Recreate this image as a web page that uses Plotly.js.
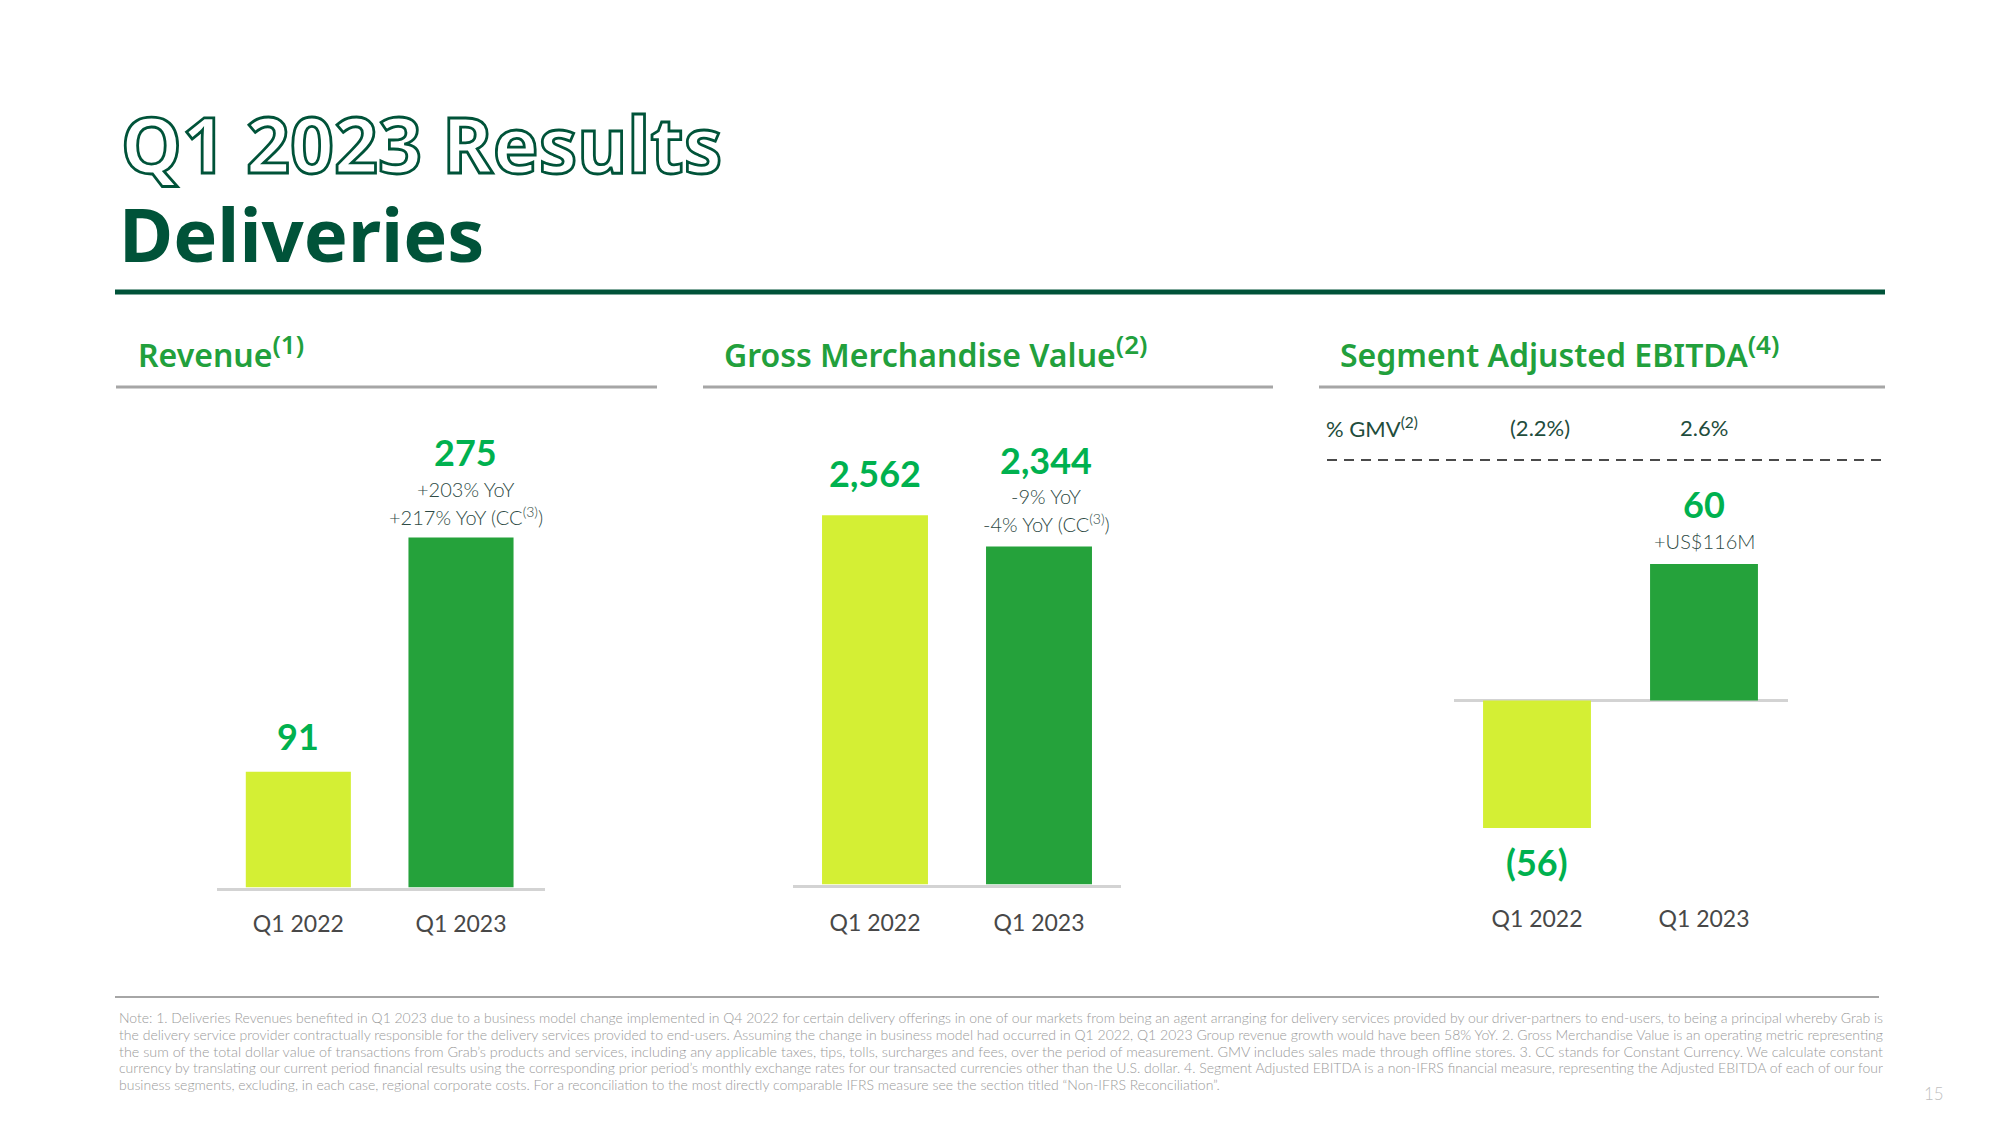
<!DOCTYPE html>
<html>
<head>
<meta charset="utf-8">
<script src="https://cdn.plot.ly/plotly-3.0.1.min.js"></script>
<style>
  html, body { margin: 0; padding: 0; background: #ffffff; }
  #chart { width: 2000px; height: 1125px; }
  g.annotation[data-index="0"] text.annotation-text {
    fill: #ffffff !important;
    stroke: #005339;
    stroke-width: 2.8px;
  }
</style>
</head>
<body>
<div id="chart"></div>
<script>
// ---------- data ----------
const categories = ['Q1 2022', 'Q1 2023'];
const revenue = [91, 275];
const gmv = [2562, 2344];
const ebitda = [-56, 60];
const gmvPct = ['(2.2%)', '2.6%'];
const revenueNotes = ['+203% YoY', '+217% YoY (CC<sup>(3)</sup>)'];
const gmvNotes = ['-9% YoY', '-4% YoY (CC<sup>(3)</sup>)'];
const ebitdaNote = '+US$116M';
const footnotes = [
  'Note: 1. Deliveries Revenues benefited in Q1 2023 due to a business model change implemented in Q4 2022 for certain delivery offerings in one of our markets from being an agent arranging for delivery services provided by our driver-partners to end-users, to being a principal whereby Grab is',
  'the delivery service provider contractually responsible for the delivery services provided to end-users. Assuming the change in business model had occurred in Q1 2022, Q1 2023 Group revenue growth would have been 58% YoY. 2. Gross Merchandise Value is an operating metric representing',
  'the sum of the total dollar value of transactions from Grab\u2019s products and services, including any applicable taxes, tips, tolls, surcharges and fees, over the period of measurement. GMV includes sales made through offline stores. 3. CC stands for Constant Currency. We calculate constant',
  'currency by translating our current period financial results using the corresponding prior period\u2019s monthly exchange rates for our transacted currencies other than the U.S. dollar. 4. Segment Adjusted EBITDA is a non-IFRS financial measure, representing the Adjusted EBITDA of each of our four',
  'business segments, excluding, in each case, regional corporate costs. For a reconciliation to the most directly comparable IFRS measure see the section titled \u201cNon-IFRS Reconciliation\u201d.'
];

// ---------- style ----------
const W = 2000, H = 1125;
const px = x => x / W;
const py = y => 1 - y / H;
const barColors = ['#D4EF34', '#25A23B'];
const darkGreen = '#005339';
const headGreen = '#22A03C';
const numGreen = '#00B14F';
const noteColor = '#2E4A44';
const fmt = v => v < 0 ? '(' + Math.abs(v).toLocaleString('en-US') + ')' : v.toLocaleString('en-US');

const traces = [
  { type: 'bar', x: categories, y: revenue, xaxis: 'x', yaxis: 'y', marker: { color: barColors }, hoverinfo: 'skip' },
  { type: 'bar', x: categories, y: gmv, xaxis: 'x2', yaxis: 'y2', marker: { color: barColors }, hoverinfo: 'skip' },
  { type: 'bar', x: categories, y: ebitda, xaxis: 'x3', yaxis: 'y3', marker: { color: barColors }, hoverinfo: 'skip' }
];

const xBase = {
  type: 'category', showgrid: false, zeroline: false, ticks: '', fixedrange: true,
  tickfont: { family: 'Lato', size: 23, color: '#484848' }, ticklabelstandoff: 14
};
const layout = {
  width: W, height: H,
  margin: { l: 0, r: 0, t: 0, b: 0 },
  paper_bgcolor: '#ffffff', plot_bgcolor: 'rgba(0,0,0,0)',
  showlegend: false, bargap: 0.354,
  xaxis:  Object.assign({}, xBase, { domain: [px(217), px(545)], anchor: 'y', showline: true, linecolor: '#D3D3D3', linewidth: 3 }),
  xaxis2: Object.assign({}, xBase, { domain: [px(793), px(1121)], anchor: 'y2', showline: true, linecolor: '#D3D3D3', linewidth: 3, ticklabelstandoff: 16 }),
  xaxis3: Object.assign({}, xBase, { domain: [px(1453.5), px(1787.5)], anchor: 'y3', showline: false, ticklabelstandoff: 15 }),
  yaxis:  { domain: [py(887.5), py(430)], range: [0, 359.4], visible: false, fixedrange: true },
  yaxis2: { domain: [py(884.5), py(430)], range: [0, 3153], visible: false, fixedrange: true },
  yaxis3: { domain: [py(887.5), py(430)], range: [-82.16, 118.85], showgrid: false, showticklabels: false, ticks: '',
            zeroline: true, zerolinecolor: '#D3D3D3', zerolinewidth: 3, showline: false, fixedrange: true },
  shapes: [
    { type: 'line', xref: 'paper', yref: 'paper', x0: px(115), x1: px(1885), y0: py(292), y1: py(292), line: { color: darkGreen, width: 5 } },
    { type: 'line', xref: 'paper', yref: 'paper', x0: px(116), x1: px(657), y0: py(387), y1: py(387), line: { color: '#A6A6A6', width: 3 } },
    { type: 'line', xref: 'paper', yref: 'paper', x0: px(703), x1: px(1273), y0: py(387), y1: py(387), line: { color: '#A6A6A6', width: 3 } },
    { type: 'line', xref: 'paper', yref: 'paper', x0: px(1319), x1: px(1885), y0: py(387), y1: py(387), line: { color: '#A6A6A6', width: 3 } },
    { type: 'line', xref: 'paper', yref: 'paper', x0: px(1327), x1: px(1888), y0: py(460), y1: py(460), line: { color: '#4A4A4A', width: 2, dash: '10px,7px' } },
    { type: 'line', xref: 'paper', yref: 'paper', x0: px(115), x1: px(1879), y0: py(997), y1: py(997), line: { color: '#A6A6A6', width: 2 } }
  ],
  annotations: []
};

const A = layout.annotations;
function txt(text, x, y, size, color, opts) {
  const a = Object.assign({
    text: text, xref: 'paper', yref: 'paper', x: px(x), y: py(y),
    xanchor: 'center', yanchor: 'middle', showarrow: false,
    font: { family: 'Lato', size: size, color: color }
  }, opts || {});
  A.push(a);
  return a;
}
// index 0: outlined title
txt('Q1 2023 Results', 119, 143, 77, darkGreen, { xanchor: 'left', font: { family: 'Noto Sans', size: 77, color: darkGreen, weight: 700 } });
txt('Deliveries', 117, 234, 74, darkGreen, { xanchor: 'left', font: { family: 'Noto Sans', size: 74, color: darkGreen, weight: 700 } });

// panel titles
const headFont = { family: 'Noto Sans', size: 32, color: headGreen, weight: 600 };
const sup = s => '<sup><span style="font-size:26px">' + s + '</span></sup>';
txt('Revenue' + sup('(1)'), 136, 351, 32, headGreen, { xanchor: 'left', font: headFont });
txt('Gross Merchandise Value' + sup('(2)'), 722, 351, 32, headGreen, { xanchor: 'left', font: headFont });
txt('Segment Adjusted EBITDA' + sup('(4)'), 1338, 351, 32, headGreen, { xanchor: 'left', font: headFont });

// value labels
const valFont = { family: 'Lato', size: 36, color: numGreen, weight: 700 };
const noteFont = { family: 'Lato', size: 20, color: noteColor, weight: 300 };
A.push({ text: fmt(revenue[0]), xref: 'x', yref: 'paper', x: categories[0], y: py(736), showarrow: false, yanchor: 'middle', font: valFont });
A.push({ text: fmt(revenue[1]), xref: 'x', yref: 'paper', x: categories[1], y: py(452), xshift: 4, showarrow: false, yanchor: 'middle', font: valFont });
A.push({ text: revenueNotes[0], xref: 'x', yref: 'paper', x: categories[1], y: py(489), xshift: 5, showarrow: false, yanchor: 'middle', font: noteFont });
A.push({ text: revenueNotes[1], xref: 'x', yref: 'paper', x: categories[1], y: py(516), xshift: 5, showarrow: false, yanchor: 'middle', font: noteFont });

A.push({ text: fmt(gmv[0]), xref: 'x2', yref: 'paper', x: categories[0], y: py(473), showarrow: false, yanchor: 'middle', font: valFont });
A.push({ text: fmt(gmv[1]), xref: 'x2', yref: 'paper', x: categories[1], y: py(460), xshift: 7, showarrow: false, yanchor: 'middle', font: valFont });
A.push({ text: gmvNotes[0], xref: 'x2', yref: 'paper', x: categories[1], y: py(496), xshift: 7, showarrow: false, yanchor: 'middle', font: noteFont });
A.push({ text: gmvNotes[1], xref: 'x2', yref: 'paper', x: categories[1], y: py(523), xshift: 7, showarrow: false, yanchor: 'middle', font: noteFont });

A.push({ text: fmt(ebitda[1]), xref: 'x3', yref: 'paper', x: categories[1], y: py(504), showarrow: false, yanchor: 'middle', font: valFont });
A.push({ text: ebitdaNote, xref: 'x3', yref: 'paper', x: categories[1], y: py(541), showarrow: false, yanchor: 'middle', font: noteFont });
A.push({ text: fmt(ebitda[0]), xref: 'x3', yref: 'paper', x: categories[0], y: py(862), showarrow: false, yanchor: 'middle', font: valFont });

// % GMV row
const pctFont = { family: 'Lato', size: 22, color: '#1F4D3D', weight: 400 };
txt('% GMV<sup>(2)</sup>', 1324, 428, 22, '#1F4D3D', { xanchor: 'left', font: pctFont });
A.push({ text: gmvPct[0], xref: 'x3', yref: 'paper', x: categories[0], y: py(428), xshift: 3, showarrow: false, yanchor: 'middle', font: pctFont });
A.push({ text: gmvPct[1], xref: 'x3', yref: 'paper', x: categories[1], y: py(428), showarrow: false, yanchor: 'middle', font: pctFont });

// footnotes
const fnY = [1017, 1034, 1051, 1067.5, 1084];
const fnStart = A.length;
footnotes.forEach((t, i) => {
  txt(t, 117, fnY[i], 14, '#9A9A9A', { xanchor: 'left', align: 'left', font: { family: 'Lato', size: 14, color: '#9A9A9A', weight: 300 } });
});
txt('15', 1934, 1093, 17, '#BFBFBF', { font: { family: 'Lato', size: 17, color: '#BFBFBF', weight: 300 } });

Plotly.newPlot('chart', traces, layout, { displayModeBar: false, staticPlot: true }).then(() => {
  // justify the footnote lines (all but the last) to the full text width
  for (let i = fnStart; i < fnStart + footnotes.length - 1; i++) {
    const t = document.querySelector('g.annotation[data-index="' + i + '"] text.annotation-text');
    if (t) { t.setAttribute('textLength', 1764); t.setAttribute('lengthAdjust', 'spacingAndGlyphs'); }
  }
});
</script>
</body>
</html>
